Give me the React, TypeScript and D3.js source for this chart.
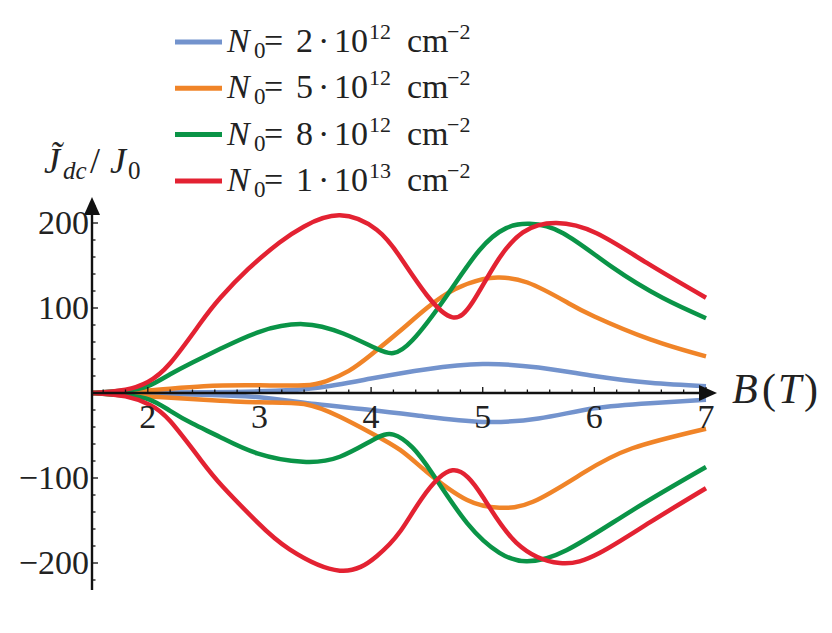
import React from "react";
import * as d3 from "d3";

type Pt = [number, number];

// Data (B in tesla, J/J0)
const blueUp: Pt[] = [[1.5,0],[2,0.5],[2.5,1],[3,2],[3.5,6],[4,17],[4.5,28],[5,34],[5.5,30],[6,20],[6.5,12],[7,8]];
const blueDown: Pt[] = [[1.5,0],[2,-1],[2.5,-2],[3,-5],[3.5,-13],[4,-20],[4.5,-28],[5,-34],[5.5,-30],[6,-18],[6.5,-12],[7,-8]];
const orangeUp: Pt[] = [[1.5,0],[2,3],[2.5,8],[3,9],[3.4,9],[3.6,14],[3.8,26],[4,45],[4.25,72],[4.5,100],[4.75,122],[5,134],[5.15,136],[5.4,130],[5.75,107],[6,90],[6.5,63],[7,43]];
const orangeDown: Pt[] = [[1.5,0],[2,-4],[2.5,-8],[3,-11],[3.4,-13],[3.72,-28],[4,-47],[4.26,-67],[4.5,-93],[4.86,-126],[5.15,-135],[5.45,-128],[5.9,-94],[6.34,-65],[7,-42]];
const greenUp: Pt[] = [[1.5,0],[1.8,3],[2,8],[2.2,22],[2.4,36],[2.65,52],[3,72],[3.39,81],[3.75,70],[4.05,52],[4.2,47],[4.37,62],[4.67,113],[4.97,168],[5.21,194],[5.42,199],[5.72,188],[6.16,148],[6.61,112],[7,88]];
const greenDown: Pt[] = [[1.5,0],[1.8,-3],[2.02,-8],[2.2,-21],[2.4,-36],[2.65,-52],[2.98,-71],[3.39,-81],[3.72,-75],[4.02,-55],[4.2,-49],[4.37,-64],[4.55,-95],[4.86,-153],[5.15,-188],[5.39,-198],[5.75,-185],[6.34,-138],[7,-87]];
const redUp: Pt[] = [[1.5,0],[1.8,4],[2,13],[2.2,35],[2.47,82],[2.65,112],[2.9,146],[3.18,177],[3.4,196],[3.72,209],[4.05,192],[4.26,160],[4.5,115],[4.73,89],[4.91,107],[5.12,153],[5.36,189],[5.66,200],[6.02,188],[6.47,153],[7,112]];
const redDown: Pt[] = [[1.5,0],[1.8,-4],[2.02,-14],[2.2,-33],[2.47,-78],[2.67,-110],[2.98,-152],[3.27,-184],[3.72,-209],[4.05,-192],[4.26,-163],[4.45,-125],[4.73,-91],[5.0,-122],[5.3,-176],[5.69,-200],[6.05,-188],[6.5,-152],[7,-112]];

const xTicks = [2, 3, 4, 5, 6, 7];
const yTicks = [-200, -100, 100, 200];
const legendMantissa = ["2", "5", "8", "1"];
const legendExponent = ["12", "12", "12", "13"];
const colors = ["#7393cd", "#f08428", "#0a9447", "#e32232"];

const series: { data: Pt[]; color: string }[] = [
  { data: blueUp, color: colors[0] },
  { data: blueDown, color: colors[0] },
  { data: orangeUp, color: colors[1] },
  { data: orangeDown, color: colors[1] },
  { data: greenUp, color: colors[2] },
  { data: greenDown, color: colors[2] },
  { data: redUp, color: colors[3] },
  { data: redDown, color: colors[3] },
];

const FONT = "'Liberation Serif', 'DejaVu Serif', serif";

export default function App() {
  const W = 832, H = 633;
  const x = d3.scaleLinear().domain([1.5, 7]).range([92, 706]);
  const y = d3.scaleLinear().domain([-200, 200]).range([563, 223]);
  const line = d3
    .line<Pt>()
    .x((d) => x(d[0]))
    .y((d) => y(d[1]))
    .curve(d3.curveNatural);

  const x0 = x(1.5);
  const y0 = y(0);
  const xMinor = d3.range(1.6, 7.05, 0.2).filter((v) => Math.abs(v - Math.round(v)) > 0.01);
  const yMinor = d3.range(-220, 221, 20).filter((v) => v % 100 !== 0);
  const ts = { fontFamily: FONT };

  return (
    <svg width={W} height={H} style={{ position: "absolute", left: 0, top: 0, background: "#fff", fontFamily: FONT }}>
      {/* curves */}
      <g fill="none" strokeWidth={4.5} strokeLinecap="butt" strokeLinejoin="round">
        {series.map((s, i) => (
          <path key={i} d={line(s.data) || ""} stroke={s.color} />
        ))}
      </g>
      {/* axes */}
      <g stroke="#111" strokeWidth={2.4}>
        <line x1={x0} x2={702} y1={y0} y2={y0} />
        <line x1={x0} x2={x0} y1={590} y2={212} />
      </g>
      <path d={`M717,${y0} L699,${y0 - 8} L699,${y0 + 8} Z`} fill="#111" />
      <path d={`M${x0},197 L${x0 - 8},215 L${x0 + 8},215 Z`} fill="#111" />
      <g stroke="#111" strokeWidth={1.3}>
        {xTicks.map((t) => (
          <line key={"xt" + t} x1={x(t)} x2={x(t)} y1={y0} y2={y0 - 6} />
        ))}
        {xMinor.map((t, i) => (
          <line key={"xm" + i} x1={x(t)} x2={x(t)} y1={y0} y2={y0 - 3.5} />
        ))}
        {yTicks.map((t) => (
          <line key={"yt" + t} x1={x0} x2={x0 + 6} y1={y(t)} y2={y(t)} />
        ))}
        {yMinor.map((t, i) => (
          <line key={"ym" + i} x1={x0} x2={x0 + 3.5} y1={y(t)} y2={y(t)} />
        ))}
      </g>
      {/* tick labels */}
      <g fontSize={34} fill="#222" style={ts}>
        {xTicks.map((t) => (
          <text key={"xl" + t} x={x(t)} y={428} textAnchor="middle" style={ts}>{t}</text>
        ))}
        {yTicks.map((t) => (
          <text key={"yl" + t} x={89} y={y(t) + 11} textAnchor="end" style={ts}>{t < 0 ? "\u2212" + Math.abs(t) : t}</text>
        ))}
      </g>
      {/* axis titles */}
      <g fill="#222" style={ts}>
        <text y={173} fontSize={36} style={ts}>
          <tspan x={44} fontStyle="italic">{"J\u0303"}</tspan>
          <tspan x={63} y={179} fontSize={25} fontStyle="italic">dc</tspan>
          <tspan x={90} y={173} fontSize={36}>/</tspan>
          <tspan x={110} fontStyle="italic">J</tspan>
          <tspan x={128} y={179} fontSize={25}>0</tspan>
        </text>
        <text y={403} fontSize={42} style={ts}>
          <tspan x={732} fontStyle="italic">B</tspan>
          <tspan x={762}>(</tspan>
          <tspan x={778} fontStyle="italic">T</tspan>
          <tspan x={804}>)</tspan>
        </text>
      </g>
      {/* legend */}
      <g fill="#222" style={ts}>
        {legendMantissa.map((m, i) => {
          const ly = 42 + i * 46.3;
          const b = ly + 10;
          return (
            <g key={"lg" + i}>
              <line x1={175} x2={222} y1={ly} y2={ly} stroke={colors[i]} strokeWidth={5} />
              <text y={b} fontSize={34} style={ts}>
                <tspan x={227} fontStyle="italic">N</tspan>
                <tspan x={254} y={b + 6} fontSize={23}>0</tspan>
                <tspan x={264} y={b}>=</tspan>
                <tspan x={296}>{m}</tspan>
                <tspan x={318}>·</tspan>
                <tspan x={334}>10</tspan>
                <tspan x={369} y={b - 13} fontSize={22}>{legendExponent[i]}</tspan>
                <tspan x={407} y={b}>cm</tspan>
                <tspan x={447} y={b - 13} fontSize={22}>{"\u22122"}</tspan>
              </text>
            </g>
          );
        })}
      </g>
    </svg>
  );
}
